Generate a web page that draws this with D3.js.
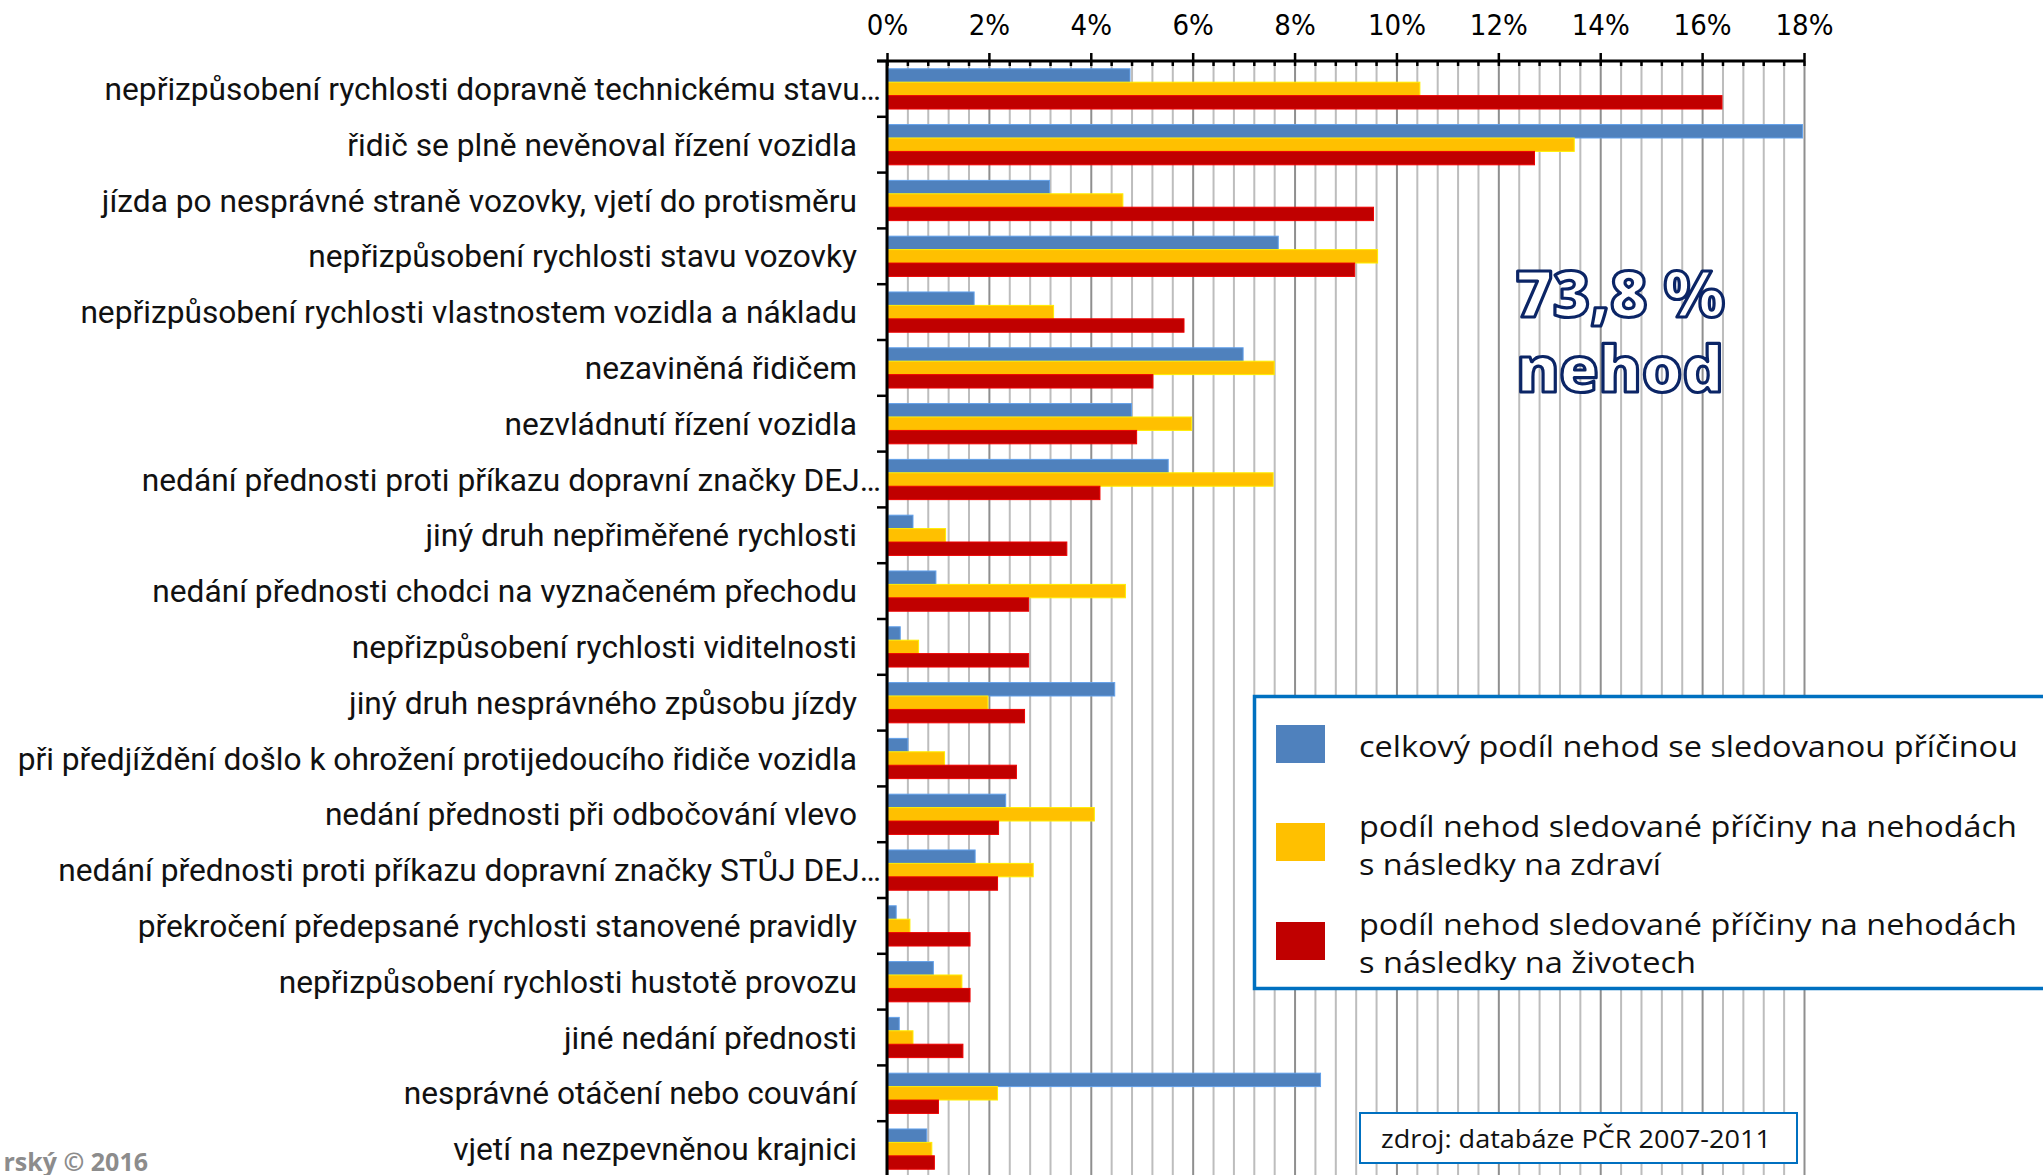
<!DOCTYPE html>
<html>
<head>
<meta charset="utf-8">
<script src="https://cdn.jsdelivr.net/npm/d3@7"></script>
<style>
  body { margin: 0; background: #fff; }
  svg { display: block; }
</style>
</head>
<body>
<svg id="chart"></svg>
<script>
// chart data (values in %)
let categories = [
    "nepřizpůsobení rychlosti dopravně technickému stavu…",
    "řidič se plně nevěnoval řízení vozidla",
    "jízda po nesprávné straně vozovky, vjetí do protisměru",
    "nepřizpůsobení rychlosti stavu vozovky",
    "nepřizpůsobení rychlosti vlastnostem vozidla a nákladu",
    "nezaviněná řidičem",
    "nezvládnutí řízení vozidla",
    "nedání přednosti proti příkazu dopravní značky DEJ…",
    "jiný druh nepřiměřené rychlosti",
    "nedání přednosti chodci na vyznačeném přechodu",
    "nepřizpůsobení rychlosti viditelnosti",
    "jiný druh nesprávného způsobu jízdy",
    "při předjíždění došlo k ohrožení protijedoucího řidiče vozidla",
    "nedání přednosti při odbočování vlevo",
    "nedání přednosti proti příkazu dopravní značky STŮJ DEJ…",
    "překročení předepsané rychlosti stanovené pravidly",
    "nepřizpůsobení rychlosti hustotě provozu",
    "jiné nedání přednosti",
    "nesprávné otáčení nebo couvání",
    "vjetí na nezpevněnou krajnici"
];
let totalShare = [4.77, 17.97, 3.19, 7.68, 1.71, 6.99, 4.80, 5.52, 0.51, 0.96, 0.26, 4.47, 0.41, 2.33, 1.73, 0.18, 0.91, 0.24, 8.51, 0.78];
let injuryShare = [10.46, 13.49, 4.63, 9.63, 3.27, 7.60, 5.98, 7.58, 1.15, 4.68, 0.62, 1.98, 1.13, 4.07, 2.87, 0.45, 1.47, 0.51, 2.17, 0.88];
let fatalShare = [16.39, 12.71, 9.55, 9.18, 5.83, 5.22, 4.90, 4.18, 3.53, 2.78, 2.78, 2.70, 2.54, 2.19, 2.17, 1.63, 1.63, 1.49, 1.01, 0.93];

let seriesKeys = ["total", "injury", "fatal"];
let seriesNames = [
    ["celkový podíl nehod se sledovanou příčinou"],
    ["podíl nehod sledované příčiny na nehodách", "s následky na zdraví"],
    ["podíl nehod sledované příčiny na nehodách", "s následky na životech"]
];
let seriesColors = ["#4f81bd", "#ffc000", "#c00000"];
let majorTicks = [0, 2, 4, 6, 8, 10, 12, 14, 16, 18];
let minorTicks = d3.range(0, 18.001, 0.4);

let highlightLines = ["73,8 %", "nehod"];
let sourceNote = "zdroj: databáze PČR 2007-2011";
let copyright = "rský © 2016";

function drawChart() {
    let width = 2043, height = 1175;
    let svg = d3.select("#chart").attr("width", width).attr("height", height);

    let rows = categories.map((c, i) => ({
        cat: c, total: totalShare[i], injury: injuryShare[i], fatal: fatalShare[i]
    }));

    let axisY = 61;
    let x = d3.scaleLinear().domain([0, 18]).range([887, 1804]);
    let y = d3.scaleBand().domain(categories).range([axisY, axisY + 20 * 55.8]).padding(0);
    let ySub = d3.scaleBand().domain(seriesKeys).range([0, y.bandwidth()]).paddingOuter(0.58).paddingInner(0);
    let color = d3.scaleOrdinal().domain(seriesKeys).range(seriesColors);

    // vertical gridlines
    let grid = svg.append("g").attr("transform", "translate(0," + axisY + ")")
        .call(d3.axisBottom(x).tickValues(minorTicks).tickSize(height - axisY).tickFormat(""));
    grid.select(".domain").remove();
    grid.selectAll(".tick line")
        .attr("stroke", d => Math.abs(d / 2 - Math.round(d / 2)) < 1e-6 ? "#8f8f8f" : "#bdbdbd")
        .attr("stroke-width", 2);

    // bars
    let groups = svg.append("g").selectAll("g").data(rows).enter().append("g")
        .attr("transform", d => "translate(0," + y(d.cat) + ")");
    groups.selectAll("rect")
        .data(d => seriesKeys.map(k => ({key: k, value: d[k]})))
        .enter().append("rect")
        .attr("x", x(0))
        .attr("y", d => ySub(d.key))
        .attr("width", d => x(d.value) - x(0))
        .attr("height", ySub.bandwidth())
        .attr("fill", d => color(d.key))
        .attr("stroke", d => d3.color(color(d.key)).brighter(0.6))
        .attr("stroke-width", 1);

    // top axis: major ticks crossing the line, minor ticks pointing down
    let topAxis = svg.append("g").attr("transform", "translate(0," + axisY + ")")
        .call(d3.axisTop(x).tickValues(majorTicks).tickSize(8).tickPadding(18).tickFormat(d => d + "%"));
    topAxis.select(".domain").remove();
    topAxis.selectAll(".tick line").attr("stroke", "#000").attr("stroke-width", 2.5);
    topAxis.selectAll(".tick text")
        .attr("font-family", "'Liberation Sans Narrow', 'DejaVu Sans Condensed', sans-serif")
        .attr("font-size", 29).attr("fill", "#000").attr("dy", 0);
    let minorAxis = svg.append("g").attr("transform", "translate(0," + axisY + ")")
        .call(d3.axisBottom(x).tickValues(minorTicks).tickSize(5).tickFormat(""));
    minorAxis.select(".domain").remove();
    minorAxis.selectAll(".tick line").attr("stroke", "#000").attr("stroke-width", 2.5);
    svg.append("line").attr("x1", 877).attr("x2", x(18) + 1)
        .attr("y1", axisY).attr("y2", axisY).attr("stroke", "#000").attr("stroke-width", 3);

    // left axis with ticks between categories
    svg.append("line").attr("x1", x(0)).attr("x2", x(0))
        .attr("y1", axisY).attr("y2", height).attr("stroke", "#000").attr("stroke-width", 3);
    svg.append("g").selectAll("line").data(categories).enter().append("line")
        .attr("x1", 877).attr("x2", x(0))
        .attr("y1", d => y(d)).attr("y2", d => y(d))
        .attr("stroke", "#000").attr("stroke-width", 2.5);

    // category labels
    svg.append("g").selectAll("text").data(categories).enter().append("text")
        .attr("x", d => d.endsWith("…") ? 881 : 857)
        .attr("y", d => y(d) + y.bandwidth() / 2)
        .attr("dy", "0.35em")
        .attr("text-anchor", "end")
        .attr("font-family", "Roboto, sans-serif")
        .attr("font-size", 31.7)
        .attr("fill", "#111")
        .text(d => d);

    // highlight text
    let hlY = [317, 392];
    svg.append("g").selectAll("text").data(highlightLines).enter().append("text")
        .attr("x", 1620).attr("y", (d, i) => hlY[i])
        .attr("text-anchor", "middle")
        .attr("font-family", "'Open Sans', sans-serif").attr("font-weight", 800)
        .attr("font-size", 64).attr("fill", "#fff")
        .attr("stroke", "#0b2566").attr("stroke-width", 3.2).attr("stroke-linejoin", "round")
        .text(d => d);

    // legend
    let legend = svg.append("g");
    legend.append("rect").attr("x", 1254.5).attr("y", 696.5).attr("width", 900).attr("height", 292)
        .attr("fill", "#fff").attr("stroke", "#0070c0").attr("stroke-width", 3.5);
    let swatchY = [725, 823, 922];
    let textY = [[757], [837, 875], [935, 973]];
    let textLen = [[659], [658, 302], [658, 337]];
    seriesKeys.forEach((k, i) => {
        legend.append("rect").attr("x", 1276).attr("y", swatchY[i])
            .attr("width", 49).attr("height", 38).attr("fill", color(k));
        seriesNames[i].forEach((line, j) => {
            legend.append("text").attr("x", 1359).attr("y", textY[i][j])
                .attr("font-family", "'Open Sans', sans-serif")
                .attr("font-size", 30).attr("fill", "#111")
                .attr("textLength", textLen[i][j]).attr("lengthAdjust", "spacingAndGlyphs")
                .text(line);
        });
    });

    // source box
    svg.append("rect").attr("x", 1360).attr("y", 1113).attr("width", 437).attr("height", 50)
        .attr("fill", "#fff").attr("stroke", "#0070c0").attr("stroke-width", 2);
    svg.append("text").attr("x", 1381).attr("y", 1148)
        .attr("font-family", "'Open Sans', sans-serif")
        .attr("font-size", 26).attr("fill", "#111")
        .attr("textLength", 390).attr("lengthAdjust", "spacingAndGlyphs")
        .text(sourceNote);

    // copyright, cut at the left edge
    svg.append("text").attr("x", 148).attr("y", 1171).attr("text-anchor", "end")
        .attr("font-family", "'Open Sans', sans-serif").attr("font-weight", 700)
        .attr("font-size", 25).attr("fill", "#8c8c8c")
        .text(copyright);
}

drawChart();
</script>
</body>
</html>
